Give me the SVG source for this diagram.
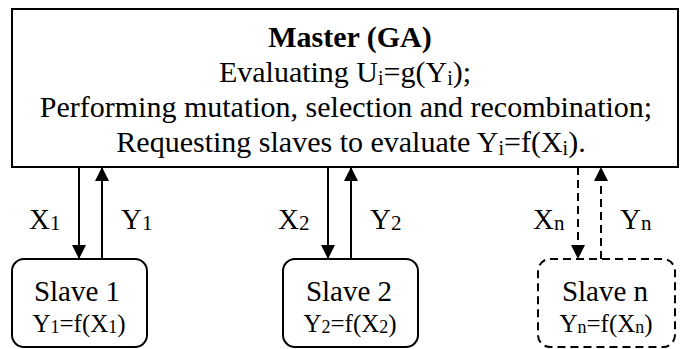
<svg xmlns="http://www.w3.org/2000/svg" width="680" height="349" viewBox="0 0 680 349">
<defs>
<marker id="ah" viewBox="0 0 14 14" refX="14" refY="7" markerWidth="14" markerHeight="14" markerUnits="userSpaceOnUse" orient="auto">
<path d="M0,0 L14,7 L0,14 Z" fill="#000"/>
</marker>
</defs>
<style>
text{font-family:'Liberation Serif','Times New Roman',serif;fill:#000}
.m{font-size:30px;text-anchor:middle}
.b{font-weight:bold}
.lbl{font-size:29px}
.s1{font-size:29px;text-anchor:middle}
.s2{font-size:25px;text-anchor:middle}
.box{fill:#fff;stroke:#000;stroke-width:2}
.dash{stroke-dasharray:8,5}
.ln{stroke:#000;stroke-width:2;fill:none}
</style>
<rect x="0" y="0" width="680" height="349" fill="#fff"/>
<g id="master">
<rect class="box" x="12" y="9" width="666" height="158"/>
<text class="m b" x="350" y="47">Master (GA)</text>
<text class="m" x="345" y="82">Evaluating U<tspan font-size="20" dy="3">i</tspan><tspan dy="-3">=g(Y</tspan><tspan font-size="20" dy="3">i</tspan><tspan dy="-3">);</tspan></text>
<text class="m" x="346" y="117">Performing mutation, selection and recombination;</text>
<text class="m" x="351" y="152">Requesting slaves to evaluate Y<tspan font-size="20" dy="3">i</tspan><tspan dy="-3">=f(X</tspan><tspan font-size="20" dy="3">i</tspan><tspan dy="-3">).</tspan></text>
</g>
<g id="slave1">
<rect class="box" x="12" y="259" width="135" height="88" rx="12"/>
<text class="s1" x="77" y="301">Slave 1</text>
<text class="s2" x="79" y="332">Y<tspan font-size="18" dy="1">1</tspan><tspan dy="-1">=f(X</tspan><tspan font-size="18" dy="1">1</tspan><tspan dy="-1">)</tspan></text>
</g>
<g id="slave2">
<rect class="box" x="283" y="259" width="135" height="88" rx="12"/>
<text class="s1" x="349" y="301">Slave 2</text>
<text class="s2" x="350" y="332">Y<tspan font-size="18" dy="1">2</tspan><tspan dy="-1">=f(X</tspan><tspan font-size="18" dy="1">2</tspan><tspan dy="-1">)</tspan></text>
</g>
<g id="slaven">
<rect class="box dash" x="538" y="259" width="137" height="88" rx="12"/>
<text class="s1" x="605" y="301">Slave n</text>
<text class="s2" x="606" y="332">Y<tspan font-size="18" dy="1">n</tspan><tspan dy="-1">=f(X</tspan><tspan font-size="18" dy="1">n</tspan><tspan dy="-1">)</tspan></text>
</g>
<g id="connectors">
<line class="ln" x1="79" y1="167" x2="79" y2="259" marker-end="url(#ah)"/>
<line class="ln" x1="102" y1="259" x2="102" y2="167" marker-end="url(#ah)"/>
<line class="ln" x1="328" y1="167" x2="328" y2="259" marker-end="url(#ah)"/>
<line class="ln" x1="351" y1="259" x2="351" y2="167" marker-end="url(#ah)"/>
<line class="ln dash" x1="578" y1="167" x2="578" y2="259" marker-end="url(#ah)"/>
<line class="ln dash" x1="601" y1="259" x2="601" y2="167" marker-end="url(#ah)"/>
<text class="lbl" x="29" y="229">X<tspan font-size="21" dy="1">1</tspan></text>
<text class="lbl" x="121" y="229">Y<tspan font-size="21" dy="1">1</tspan></text>
<text class="lbl" x="278" y="229">X<tspan font-size="21" dy="1">2</tspan></text>
<text class="lbl" x="370" y="229">Y<tspan font-size="21" dy="1">2</tspan></text>
<text class="lbl" x="533" y="229">X<tspan font-size="21" dy="1">n</tspan></text>
<text class="lbl" x="620" y="229">Y<tspan font-size="21" dy="1">n</tspan></text>
</g>
</svg>
